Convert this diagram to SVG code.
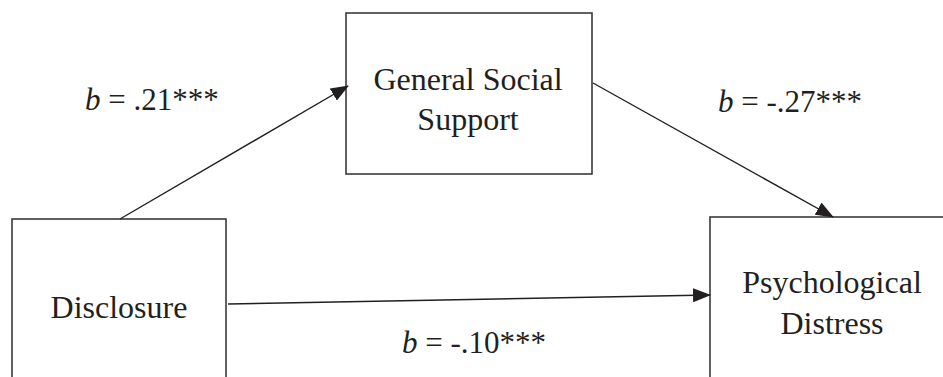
<svg xmlns="http://www.w3.org/2000/svg" width="943" height="377" viewBox="0 0 943 377">
<style>
.box{fill:#fff;stroke:#3a3a3a;stroke-width:1.6}
.lbl{font-family:'Liberation Serif','Times New Roman',Times,serif;font-size:32px;fill:#231f20;text-anchor:middle}
.coef{font-family:'Liberation Serif','Times New Roman',Times,serif;font-size:31px;fill:#231f20}
.conn{stroke:#231f20;stroke-width:1.4;fill:none;marker-end:url(#ah)}
</style>
<defs>
<marker id="ah" markerUnits="userSpaceOnUse" markerWidth="18" markerHeight="14" refX="17" refY="7" orient="auto">
<path d="M0,0 L18,7 L0,14 Z" fill="#231f20"/>
</marker>
</defs>
<rect width="943" height="377" fill="#fff"/>
<g id="disclosure">
<rect class="box" x="12" y="219" width="214" height="200"/>
<text class="lbl" x="119" y="318" font-family="Liberation Serif, serif">Disclosure</text>
</g>
<g id="support">
<rect class="box" x="346" y="13" width="246" height="161"/>
<text class="lbl" x="468" y="90">General Social</text>
<text class="lbl" x="468" y="130">Support</text>
</g>
<g id="distress">
<rect class="box" x="710" y="217" width="260" height="200"/>
<text class="lbl" x="832" y="293">Psychological</text>
<text class="lbl" x="832" y="334">Distress</text>
</g>
<g id="connectors">
<line class="conn" x1="120" y1="219" x2="348" y2="86"/>
<line class="conn" x1="593" y1="83" x2="833" y2="217"/>
<line class="conn" x1="228" y1="304" x2="710" y2="295"/>
</g>
<g id="labels">
<text class="coef" x="85" y="110"><tspan font-style="italic">b</tspan> = .21***</text>
<text class="coef" x="718" y="112"><tspan font-style="italic">b</tspan> = -.27***</text>
<text class="coef" x="402" y="353"><tspan font-style="italic">b</tspan> = -.10***</text>
</g>
</svg>
